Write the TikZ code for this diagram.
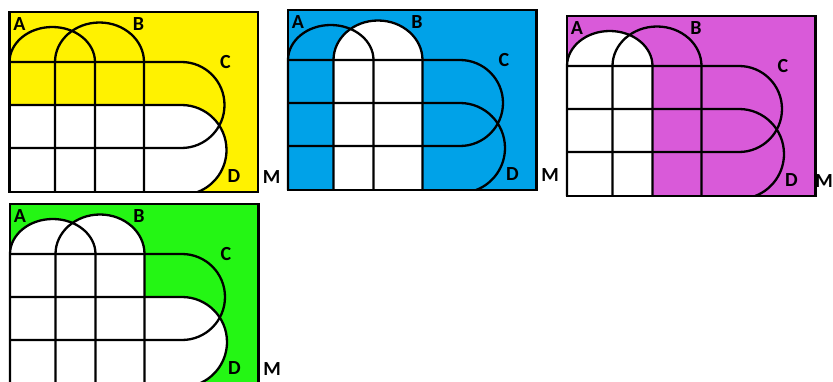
\documentclass[tikz,border=0pt]{standalone}
\usepackage{fontspec}
\newfontfamily\labfont{Carlito}
\definecolor{pyellow}{RGB}{255,242,0}
\definecolor{pblue}{RGB}{0,162,232}
\definecolor{pmagenta}{RGB}{217,90,217}
\definecolor{pgreen}{RGB}{36,246,20}
\tikzset{
  setline/.style={draw=black, line width=2.3pt, line join=round},
  frameline/.style={draw=black, line width=2.3pt},
  setlabel/.style={font=\labfont\bfseries\fontsize{20}{22}\selectfont, inner sep=0pt, text=black},
  regA/.style={insert path={(0,0) -- (0,130) arc[start angle=180,end angle=0,x radius=42.75pt,y radius=35pt] -- (85.5,0) -- cycle}},
  regB/.style={insert path={(45.5,0) -- (45.5,130) arc[start angle=180,end angle=0,x radius=44.5pt,y radius=39.5pt] -- (134.5,0) -- cycle}},
  regD/.style={insert path={(0,0) -- (0,87) -- (172,87) arc[start angle=90,end angle=-69,radius=45pt] -- cycle}},
}
\newcommand\vpanel[5]{%
  \begin{scope}[shift={#1}]
    \fill[#2] (0,0) rectangle (248.5,180);
    #3
    % A
    \draw[setline] (0,0) -- (0,130) arc[start angle=180,end angle=0,x radius=42.75pt,y radius=35pt] -- (85.5,0);
    % B
    \draw[setline] (45.5,0) -- (45.5,130) arc[start angle=180,end angle=0,x radius=44.5pt,y radius=39.5pt] -- (134.5,0);
    % C
    \draw[setline] (0,130) -- (172,130) arc[start angle=90,end angle=-90,radius=43pt] -- (0,44);
    % D
    \draw[setline] (0,87) -- (172,87) arc[start angle=90,end angle=-69,radius=45pt];
    \draw[frameline] (0,0) rectangle (248.5,180);
    \node[setlabel] (#4A) at (10,168) {A};
    \node[setlabel] (#4B) at (129,167.5) {B};
    \node[setlabel] (#4C) at (216,129.5) {C};
    \node[setlabel] (#4D) at (224.5,16) {D};
    \node[setlabel] (#4M) at (#5,15) {M};
  \end{scope}}
\begin{document}
\begin{tikzpicture}[x=1pt,y=1pt]
  \useasboundingbox (0,0) rectangle (833,381);
  \clip (0,0) rectangle (833,381);
  \vpanel{(9.5,189)}{pyellow}{\fill[white,regD];}{p}{262}
  \vpanel{(288,191)}{pblue}{\fill[white,regB];}{q}{262}
  \vpanel{(567,185)}{pmagenta}{\fill[white,regA];}{r}{257}
  \vpanel{(10,-3)}{pgreen}{\fill[white,regA]; \fill[white,regB]; \fill[white,regD];}{s}{262}
\end{tikzpicture}
\end{document}
